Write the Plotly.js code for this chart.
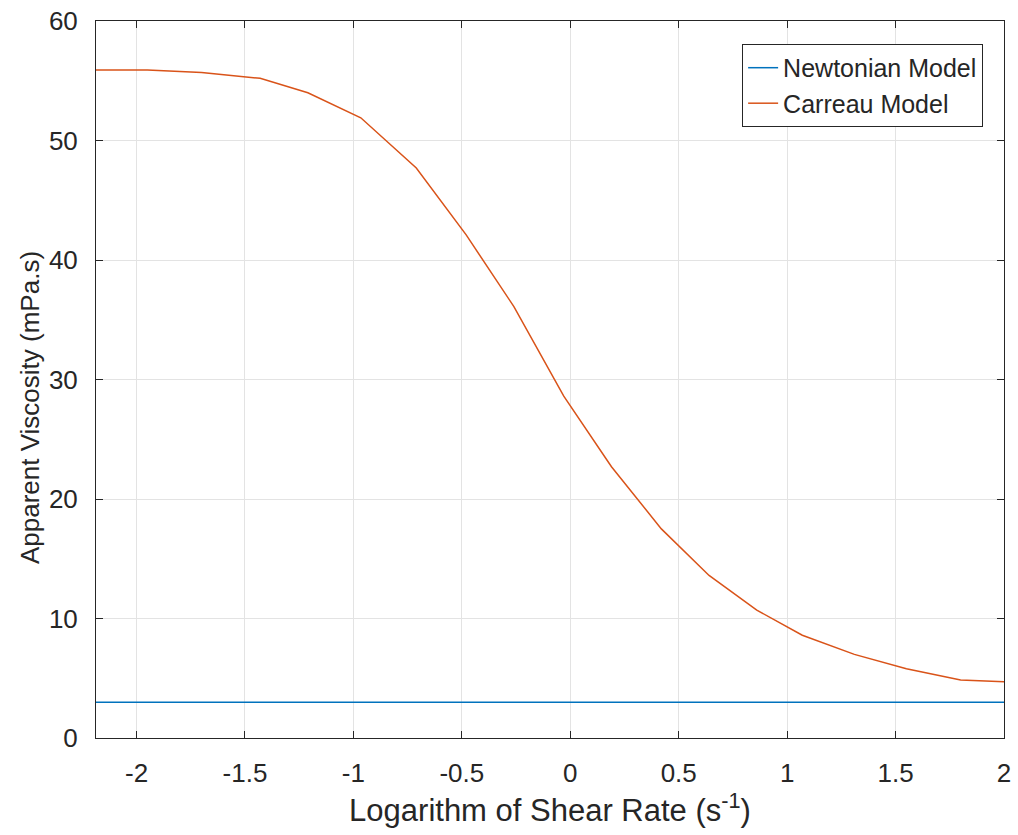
<!DOCTYPE html>
<html>
<head>
<meta charset="utf-8">
<script src="https://cdn.plot.ly/plotly-3.0.1.min.js"></script>
<style>html,body{margin:0;padding:0;background:#fff;}#chart{width:1018px;height:835px;}</style>
</head>
<body>
<div id="chart"></div>
<script>
const logShearRate = [-2.187, -1.95, -1.70, -1.43, -1.21, -0.966, -0.71, -0.48, -0.26, -0.03, 0.19, 0.42, 0.64, 0.86, 1.07, 1.31, 1.55, 1.80, 2.0];
const carreauViscosity = [55.9, 55.9, 55.7, 55.2, 54.0, 51.9, 47.7, 42.1, 36.1, 28.6, 22.7, 17.5, 13.6, 10.7, 8.6, 7.0, 5.8, 4.85, 4.7];
const newtonianX = [-2.187, 2.0];
const newtonianViscosity = [3, 3];
const xTicks = [-2, -1.5, -1, -0.5, 0, 0.5, 1, 1.5, 2];
const yTicks = [0, 10, 20, 30, 40, 50, 60];
const xTitle = 'Logarithm of Shear Rate (s<sup>-1</sup>)';
const yTitle = 'Apparent Viscosity (mPa.s)';

const axisColor = '#262626';
const family = 'Liberation Sans, Arial, sans-serif';
const tickFont = {family: family, size: 26, color: axisColor};

const traces = [
  {x: newtonianX, y: newtonianViscosity, mode: 'lines', name: 'Newtonian Model',
   line: {color: '#0072BD', width: 1.5}},
  {x: logShearRate, y: carreauViscosity, mode: 'lines', name: 'Carreau Model',
   line: {color: '#D95319', width: 1.5}}
];

const layout = {
  width: 1018, height: 835,
  margin: {l: 96, r: 14, t: 21, b: 97},
  paper_bgcolor: '#fff', plot_bgcolor: '#fff',
  font: tickFont,
  showlegend: true,
  legend: {x: 0.977, y: 0.968, xanchor: 'right', yanchor: 'top',
           bgcolor: '#fff', bordercolor: axisColor, borderwidth: 1,
           font: {family: family, size: 25, color: axisColor},
           tracegroupgap: 0},
  xaxis: {range: [-2.187, 2.0], tickvals: xTicks, ticktext: xTicks.map(String),
          showgrid: true, gridcolor: '#e3e3e3', gridwidth: 1,
          zeroline: false, showline: true, linecolor: axisColor, linewidth: 1,
          mirror: 'ticks', ticks: 'inside', ticklen: 7, tickcolor: axisColor,
          tickfont: tickFont, ticklabelstandoff: 12,
          title: {text: xTitle,
                  font: {family: family, size: 31, color: axisColor}, standoff: 8}},
  yaxis: {range: [0, 60], tickvals: yTicks, ticktext: yTicks.map(String),
          showgrid: true, gridcolor: '#e3e3e3', gridwidth: 1,
          zeroline: false, showline: true, linecolor: axisColor, linewidth: 1,
          mirror: 'ticks', ticks: 'inside', ticklen: 7, tickcolor: axisColor,
          tickfont: tickFont, ticklabelstandoff: 12},
  annotations: [
    {text: yTitle, textangle: -90, showarrow: false,
     xref: 'paper', yref: 'paper', x: -0.0727, y: 0.4616,
     xanchor: 'center', yanchor: 'middle',
     font: {family: family, size: 26, color: axisColor}}
  ]
};

Plotly.newPlot('chart', traces, layout, {displayModeBar: false, staticPlot: true});
</script>
</body>
</html>
